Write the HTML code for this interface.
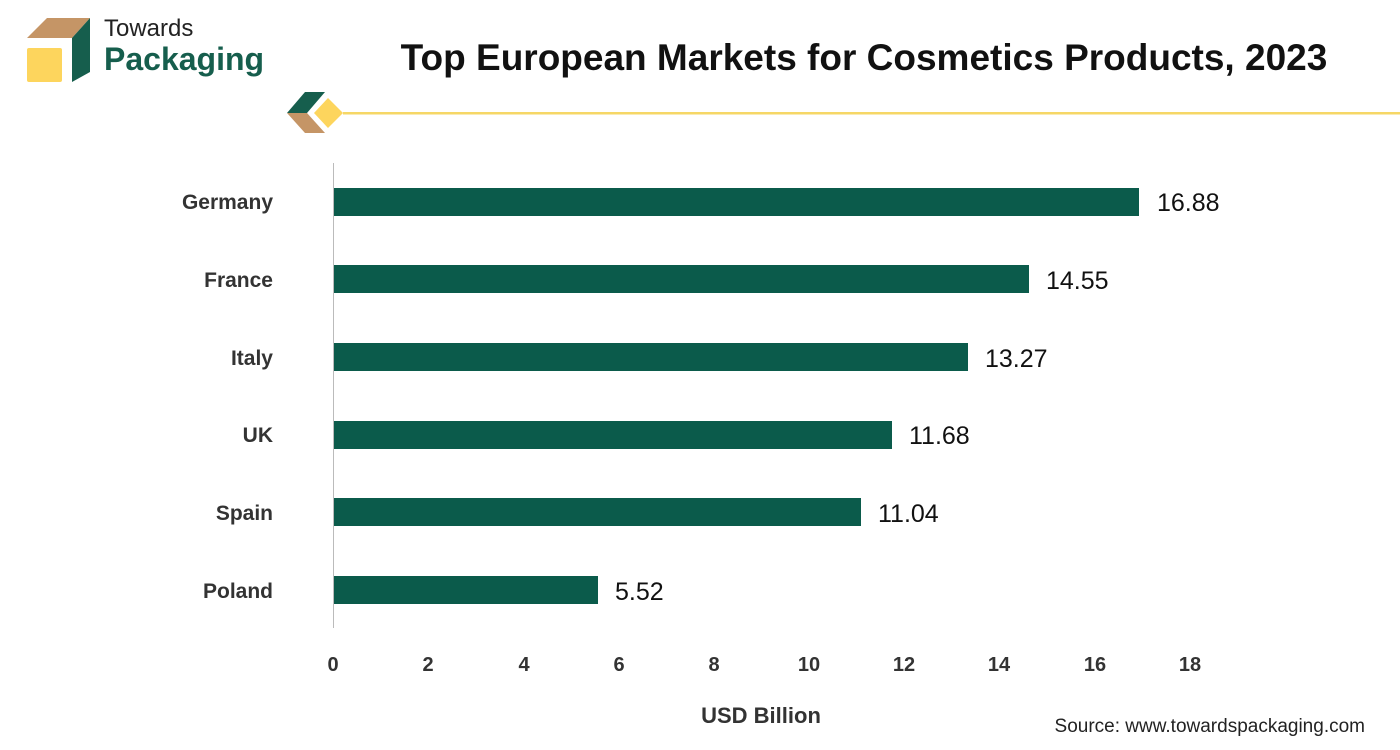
<!DOCTYPE html>
<html><head><style>
body{margin:0;width:1400px;height:750px;background:#fff;overflow:hidden;font-family:"Liberation Sans",sans-serif;}
</style></head><body>
<svg width="1400" height="750" xmlns="http://www.w3.org/2000/svg" style="position:absolute;left:0;top:0">
<polygon points="27,38 47,18 90,18 72,38" fill="#c59566"/>
<polygon points="72,38 90,18 90,72 72,82" fill="#165e4d"/>
<rect x="27" y="48" width="35" height="34" fill="#fdd55d" rx="2"/>
<text x="104" y="36" font-size="24" fill="#222">Towards</text>
<text x="104" y="70" font-size="32" font-weight="bold" fill="#165e4d">Packaging</text>
<text x="864" y="70" font-size="37" font-weight="bold" fill="#111" text-anchor="middle">Top European Markets for Cosmetics Products, 2023</text>
<polygon points="287,113 305,92 325,92 307,113" fill="#165e4d"/>
<polygon points="287,113 307,113 325,133 305,133" fill="#c59566"/>
<polygon points="310,113 327,96 344,113 327,130" fill="#fff"/>
<polygon points="314,113 328,98 343,113 328,128" fill="#fdd55d"/>
<rect x="343" y="112" width="1057" height="2.5" fill="#f6d766"/>
<line x1="333.5" y1="163" x2="333.5" y2="628" stroke="#bbb" stroke-width="1"/>
<g fill="#0b5b4b">
<rect x="334" y="188" width="805" height="28"/>
<rect x="334" y="265" width="695" height="28"/>
<rect x="334" y="343" width="634" height="28"/>
<rect x="334" y="421" width="558" height="28"/>
<rect x="334" y="498" width="527" height="28"/>
<rect x="334" y="576" width="264" height="28"/>
</g>
<g font-size="21" font-weight="bold" fill="#333" text-anchor="end">
<text x="273" y="209">Germany</text>
<text x="273" y="287">France</text>
<text x="273" y="365">Italy</text>
<text x="273" y="442">UK</text>
<text x="273" y="520">Spain</text>
<text x="273" y="598">Poland</text>
</g>
<g font-size="25" fill="#111">
<text x="1157" y="211">16.88</text>
<text x="1046" y="289">14.55</text>
<text x="985" y="367">13.27</text>
<text x="909" y="444">11.68</text>
<text x="878" y="522">11.04</text>
<text x="615" y="600">5.52</text>
</g>
<g font-size="20" font-weight="bold" fill="#333" text-anchor="middle">
<text x="333" y="671">0</text><text x="428" y="671">2</text><text x="524" y="671">4</text>
<text x="619" y="671">6</text><text x="714" y="671">8</text><text x="809" y="671">10</text>
<text x="904" y="671">12</text><text x="999" y="671">14</text><text x="1095" y="671">16</text>
<text x="1190" y="671">18</text>
</g>
<text x="761" y="723" font-size="22" font-weight="bold" fill="#333" text-anchor="middle">USD Billion</text>
<text x="1365" y="732" font-size="19" fill="#222" text-anchor="end">Source: www.towardspackaging.com</text>
</svg>
</body></html>
